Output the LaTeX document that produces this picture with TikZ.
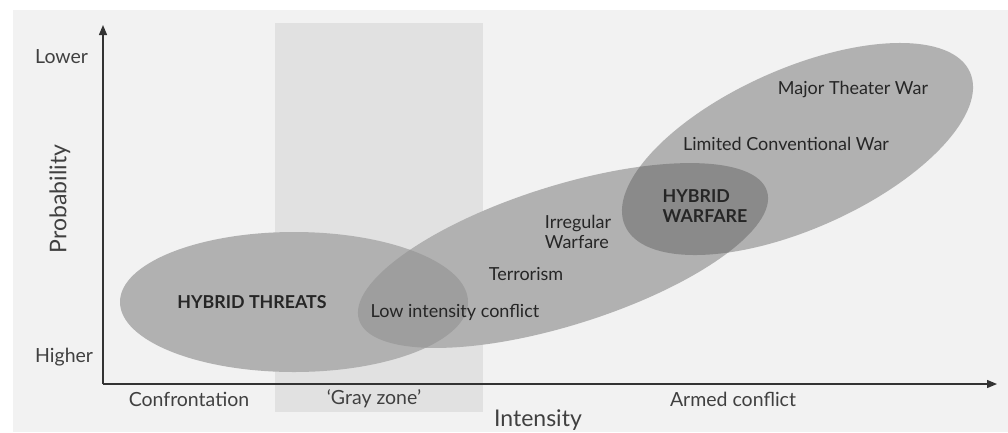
\documentclass[tikz,border=0pt]{standalone}
\usepackage{fontspec}
\setmainfont{Lato}
\usetikzlibrary{arrows.meta}
\definecolor{panel}{HTML}{F2F2F2}
\definecolor{zone}{HTML}{E1E1E1}
\definecolor{blob}{HTML}{B1B1B1}
\definecolor{blobmid}{HTML}{9E9E9E}
\definecolor{blobdeep}{HTML}{8A8A8A}
\definecolor{axisgray}{HTML}{333333}
\definecolor{inkgray}{HTML}{262626}
\definecolor{softink}{HTML}{404040}
\begin{document}
\begin{tikzpicture}[x=1pt,y=-1pt,
  lbl/.style={text=inkgray, font=\fontsize{18}{20}\selectfont, inner sep=0pt},
  axislbl/.style={text=softink, font=\fontsize{19.5}{22}\selectfont, inner sep=0pt},
  boldlbl/.style={text=inkgray, font=\fontsize{17.8}{20}\selectfont\bfseries, inner sep=0pt},
  biglbl/.style={text=softink, font=\fontsize{23}{26}\selectfont, inner sep=0pt},
  axisline/.style={draw=axisgray, line width=1.3pt, -{Triangle[length=10pt,width=8pt]}}]
\useasboundingbox (0,0) rectangle (1008,432);
% page and panel
\fill[white] (0,0) rectangle (1008,432);
\fill[panel] (13,10) rectangle (1008,432);
% gray zone band
\fill[zone] (275,23) rectangle (483,412);

% regions
\fill[blob] (294,302) ellipse [x radius=174, y radius=70];
\fill[blob, rotate around={17.5:(563,255.5)}] (563,255.5) ellipse [x radius=213.9, y radius=69.6];
\fill[blob, rotate around={24:(797.5,149)}] (797.5,149) ellipse [x radius=188.8, y radius=80];
% overlap: hybrid threats / middle band
\begin{scope}
  \clip (294,302) ellipse [x radius=174, y radius=70];
  \fill[blobmid, rotate around={17.5:(563,255.5)}] (563,255.5) ellipse [x radius=213.9, y radius=69.6];
\end{scope}
% overlap: middle band / conventional war
\begin{scope}
  \clip[rotate around={17.5:(563,255.5)}] (563,255.5) ellipse [x radius=213.9, y radius=69.6];
  \fill[blobdeep, rotate around={24:(797.5,149)}] (797.5,149) ellipse [x radius=188.8, y radius=80];
\end{scope}

% axes
\coordinate (O) at (103,384);
\coordinate (ytip) at (103,25);
\coordinate (xtip) at (997,384);
\draw[axisline] (O) -- (ytip);
\draw[axisline] (O) -- (xtip);

% axis labels
\node[axislbl, anchor=west] (lower) at (35,57) {Lower};
\node[axislbl, anchor=west] (higher) at (35,357) {Higher};
\node[biglbl, rotate=90] (prob) at (60,199) {Probability};
\node[axislbl] (conf) at (189,399) {Confrontation};
\node[axislbl] (grayz) at (374,399) {‘Gray zone’};
\node[axislbl] (armed) at (733,399) {Armed conflict};
\node[biglbl] (inten) at (538,420) {Intensity};

% region labels
\node[boldlbl] (threats) at (252,302) {HYBRID THREATS};
\node[lbl] (lowint) at (455,312) {Low intensity conflict};
\node[lbl] (terror) at (526,274) {Terrorism};
\node[lbl, align=left] (irreg) at (578,232) {Irregular\\Warfare};
\node[boldlbl, align=left] (hybwar) at (705,206) {HYBRID\\WARFARE};
\node[lbl] (limited) at (786,144) {Limited Conventional War};
\node[lbl] (major) at (853,90) {Major Theater War};
\end{tikzpicture}
\end{document}
